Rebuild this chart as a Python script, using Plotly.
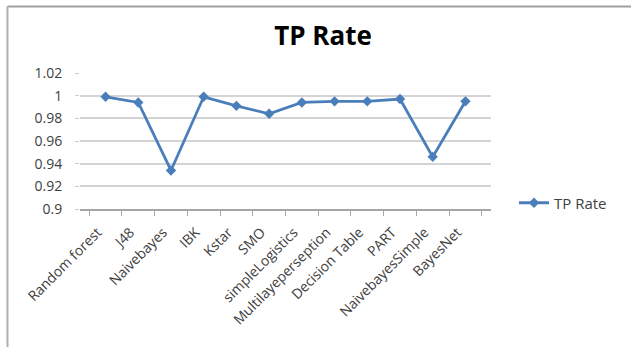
import plotly.graph_objects as go

# Classifier names and their TP rate
classifiers = [
    "Random forest", "J48", "Naivebayes", "IBK", "Kstar", "SMO",
    "simpleLogistics", "Multilayeperseption", "Decision Table", "PART",
    "NaivebayesSimple", "BayesNet",
]
tp_rate = [0.999, 0.994, 0.934, 0.999, 0.991, 0.984,
           0.994, 0.995, 0.995, 0.997, 0.946, 0.995]

y_ticks = [0.9, 0.92, 0.94, 0.96, 0.98, 1.0, 1.02]
y_tick_labels = ["0.9", "0.92", "0.94", "0.96", "0.98", "1", "1.02"]

W, H = 631, 347
ML, MR, MT, MB = 80, 140, 73, 138
PW, PH = W - ML - MR, H - MT - MB

def px_x(px):
    return (px - ML) / PW

def px_y(py):
    return (H - MB - py) / PH

BLUE = "#4a7ebb"
FONT = "Open Sans"

fig = go.Figure()
fig.add_trace(go.Scatter(
    x=classifiers, y=tp_rate, mode="lines+markers", name="TP Rate",
    line=dict(color=BLUE, width=2.8),
    marker=dict(symbol="diamond", size=8, color=BLUE),
))

fig.update_layout(
    width=W, height=H,
    margin=dict(l=ML, r=MR, t=MT, b=MB),
    paper_bgcolor="white", plot_bgcolor="white",
    font=dict(family=FONT, color="#404040", size=13),
    title=dict(text="<b>TP Rate</b>", x=px_x(323), xref="paper", xanchor="center",
               y=1 - 35.5 / H, yanchor="middle",
               font=dict(family=FONT, size=26, color="#000000")),
    showlegend=True,
    legend=dict(x=px_x(514), y=px_y(203), xanchor="left", yanchor="middle",
                font=dict(size=15, color="#404040"), bgcolor="rgba(0,0,0,0)",
                itemwidth=30),
    xaxis=dict(
        type="category", tickangle=-45, tickson="boundaries",
        ticks="outside", ticklen=5, tickcolor="#a6a6a6",
        showline=True, linecolor="#a6a6a6", linewidth=1.5,
        showgrid=False, tickfont=dict(size=14, color="#404040"),
        ticklabelstandoff=8, ticklabelshift=-8,
    ),
    yaxis=dict(
        range=[0.9, 1.02], tickvals=y_ticks, ticktext=y_tick_labels,
        ticks="outside", ticklen=4, tickcolor="#cccccc",
        showgrid=True, gridcolor="#d4d4d4", gridwidth=1.5,
        showline=False, zeroline=False, tickfont=dict(size=14, color="#404040"),
        ticklabelstandoff=10,
    ),
    shapes=[
        dict(type="line", xref="paper", yref="paper",
             x0=px_x(8), x1=px_x(632), y0=px_y(6.5), y1=px_y(6.5),
             line=dict(color="#a0a0a0", width=2)),
        dict(type="line", xref="paper", yref="paper",
             x0=px_x(7.5), x1=px_x(7.5), y0=px_y(6), y1=px_y(348),
             line=dict(color="#b0b0b0", width=2)),
    ],
)

fig.write_html("out.html")
